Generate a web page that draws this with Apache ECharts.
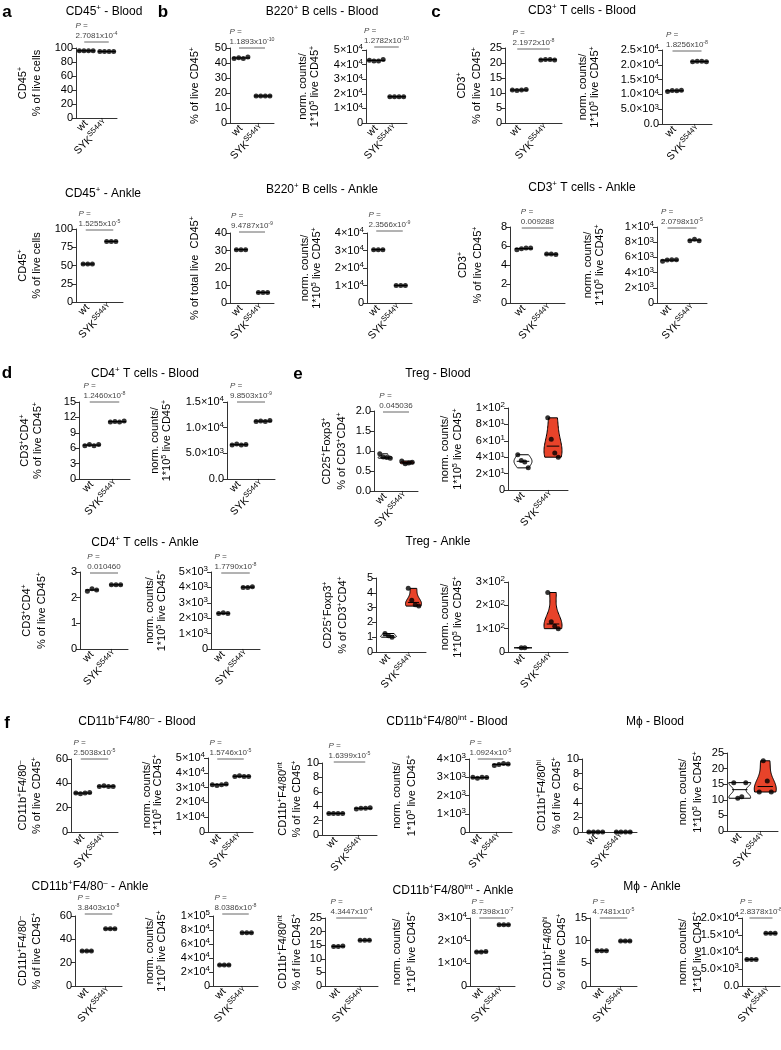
<!DOCTYPE html>
<html><head><meta charset="utf-8">
<script src="https://cdn.jsdelivr.net/npm/echarts@6/dist/echarts.min.js"></script>
<style>html,body{margin:0;padding:0;background:#fff}#c{width:781px;height:1050px}</style>
</head><body><div id="c"></div>
<script>
const FONT = '"Liberation Sans", Arial, Helvetica, sans-serif';
const categories = ['wt', 'SYK^{S544Y}'];

// ---- values ----
const aBloodWt = [96, 96, 96, 96], aBloodSyk = [95, 95, 95, 95];
const aAnkleWt = [52, 52, 52], aAnkleSyk = [83, 83, 83];
const bBloodPctWt = [43, 43.5, 43, 44], bBloodPctSyk = [18, 18, 18, 18];
const bBloodCntWt = [43000, 42500, 42500, 43500], bBloodCntSyk = [18000, 18000, 18000, 18000];
const bAnklePctWt = [30.5, 30.5, 30.5], bAnklePctSyk = [6, 6, 6];
const bAnkleCntWt = [30500, 30500, 30500], bAnkleCntSyk = [10000, 10000, 10000];
const cBloodPctWt = [11, 10.8, 11, 11.2], cBloodPctSyk = [21, 21.2, 21.2, 21];
const cBloodCntWt = [11000, 11300, 11200, 11400], cBloodCntSyk = [21000, 21200, 21200, 21000];
const cAnklePctWt = [5.6, 5.7, 5.8, 5.8], cAnklePctSyk = [5.15, 5.15, 5.1];
const cAnkleCntWt = [5500, 5650, 5700, 5700], cAnkleCntSyk = [8200, 8400, 8200];
const dBloodPctWt = [6.5, 6.7, 6.5, 6.7], dBloodPctSyk = [11.1, 11.2, 11.1, 11.3];
const dBloodCntWt = [6600, 6800, 6600, 6700], dBloodCntSyk = [11200, 11300, 11200, 11400];
const dAnklePctWt = [2.25, 2.35, 2.3], dAnklePctSyk = [2.5, 2.5, 2.5];
const dAnkleCntWt = [2300, 2350, 2300], dAnkleCntSyk = [4000, 4000, 4050];
const eBloodPctWt = [0.93, 0.85, 0.84, 0.82], eBloodPctSyk = [0.75, 0.68, 0.7, 0.72];
const eBloodCntWt = [43, 36, 34, 27], eBloodCntSyk = [88, 62, 45, 40];
const eAnklePctWt = [1.25, 1.1, 1.0], eAnklePctSyk = [4.3, 3.5, 3.2, 3.1];
const eAnkleCntWt = [18, 18], eAnkleCntSyk = [255, 130, 110, 100];
const fNegBloodPctWt = [32, 31.5, 32, 32.5], fNegBloodPctSyk = [37.5, 38, 37.5, 37.5];
const fNegBloodCntWt = [32000, 31500, 32000, 32500], fNegBloodCntSyk = [37500, 38000, 37500, 37500];
const fIntBloodPctWt = [3.0, 3.0, 3.0, 3.0], fIntBloodPctSyk = [3.6, 3.7, 3.7, 3.8];
const fIntBloodCntWt = [3000, 2950, 3000, 2980], fIntBloodCntSyk = [3650, 3700, 3750, 3720];
const fHiBloodPctWt = [0, 0, 0, 0], fHiBloodPctSyk = [0, 0, 0, 0];
const fHiBloodCntWt = [15.5, 10.5, 11, 15.5], fHiBloodCntSyk = [12.5, 22.5, 16, 12.5];
const fNegAnklePctWt = [30, 30, 30], fNegAnklePctSyk = [49, 49, 49];
const fNegAnkleCntWt = [30000, 30000, 30000], fNegAnkleCntSyk = [76000, 76000, 76000];
const fIntAnklePctWt = [14.5, 14.5, 14.7], fIntAnklePctSyk = [16.8, 16.8, 16.8];
const fIntAnkleCntWt = [15000, 15000, 15200], fIntAnkleCntSyk = [27000, 27000, 27000];
const fHiAnklePctWt = [7.8, 7.8, 7.8], fHiAnklePctSyk = [9.9, 9.9, 9.9];
const fHiAnkleCntWt = [7800, 7800, 7800], fHiAnkleCntSyk = [15500, 15500, 15500];

// ---- text ----
const NORM = ['norm. counts/', '1*10^{5} live CD45^{+}'];
const PCT45 = '% of live CD45^{+}';
const titles = [
  ['CD45^{+} - Blood', 104, 12], ['B220^{+} B cells - Blood', 322, 12], ['CD3^{+} T cells - Blood', 582, 11],
  ['CD45^{+} - Ankle', 103, 194], ['B220^{+} B cells - Ankle', 322, 190], ['CD3^{+} T cells - Ankle', 582, 188],
  ['CD4^{+} T cells - Blood', 145, 374], ['Treg - Blood', 438, 374],
  ['CD4^{+} T cells - Ankle', 145, 543], ['Treg - Ankle', 438, 542],
  ['CD11b^{+}F4/80^{–} - Blood', 137, 722], ['CD11b^{+}F4/80^{int} - Blood', 447, 722], ['Mϕ - Blood', 655, 722],
  ['CD11b^{+}F4/80^{–} - Ankle', 90, 887], ['CD11b^{+}F4/80^{int} - Ankle', 453, 891], ['Mϕ - Ankle', 652, 887]
];
const letters = [['a', 7, 12], ['b', 163, 12], ['c', 436, 12], ['d', 7, 373], ['e', 298, 374], ['f', 7, 723]];

// ---- panel layout ----
const panels = [
  {wt: aBloodWt, syk: aBloodSyk, L: 76, T: 48, B: 118, R: 117, max: 100, step: 20, fmt: 'i', yt: ['CD45^{+}', '% of live cells'], ytx: [23, 37], p: '2.7081x10^{-4}', pl: 42},
  {wt: bBloodPctWt, syk: bBloodPctSyk, L: 230, T: 48, B: 123, R: 274, max: 50, step: 10, fmt: 'i', yt: [PCT45], ytx: [195], p: '1.1893x10^{-10}', pl: 48},
  {wt: bBloodCntWt, syk: bBloodCntSyk, L: 366, T: 50, B: 123, R: 407, max: 50000, step: 10000, fmt: 's0', yt: NORM, ytx: [303, 315], p: '1.2782x10^{-10}', pl: 47},
  {wt: cBloodPctWt, syk: cBloodPctSyk, L: 505, T: 48, B: 123, R: 562, max: 25, step: 5, fmt: 'i', yt: ['CD3^{+}', PCT45], ytx: [462, 477], p: '2.1972x10^{-8}', pl: 49},
  {wt: cBloodCntWt, syk: cBloodCntSyk, L: 662, T: 50, B: 124, R: 712, max: 25000, step: 5000, fmt: 's1', yt: NORM, ytx: [583, 595], p: '1.8256x10^{-8}', pl: 51},

  {wt: aAnkleWt, syk: aAnkleSyk, L: 76, T: 229, B: 302, R: 123, max: 100, step: 25, fmt: 'i', yt: ['CD45^{+}', '% of live cells'], ytx: [23, 37], p: '1.5255x10^{-5}', pl: 230},
  {wt: bAnklePctWt, syk: bAnklePctSyk, L: 230, T: 233, B: 303, R: 274, max: 40, step: 10, fmt: 'i', yt: ['% of total live  CD45^{+}'], ytx: [195], p: '9.4787x10^{-9}', pl: 232},
  {wt: bAnkleCntWt, syk: bAnkleCntSyk, L: 367, T: 233, B: 303, R: 412, max: 40000, step: 10000, fmt: 's0', yt: NORM, ytx: [305, 317], p: '2.3566x10^{-9}', pl: 231},
  {wt: cAnklePctWt, syk: cAnklePctSyk, L: 510, T: 227, B: 303, R: 565, max: 8, step: 2, fmt: 'i', yt: ['CD3^{+}', PCT45], ytx: [463, 478], p: '0.009288', pl: 228},
  {wt: cAnkleCntWt, syk: cAnkleCntSyk, L: 657, T: 227, B: 303, R: 707, max: 10000, step: 2000, fmt: 's0', yt: NORM, ytx: [588, 600], p: '2.0798x10^{-5}', pl: 228},

  {wt: dBloodPctWt, syk: dBloodPctSyk, L: 79, T: 402, B: 479, R: 130, max: 15, step: 3, fmt: 'i', yt: ['CD3^{+}CD4^{+}', PCT45], ytx: [25, 38], p: '1.2460x10^{-8}', pl: 402},
  {wt: dBloodCntWt, syk: dBloodCntSyk, L: 227, T: 402, B: 479, R: 275, max: 15000, step: 5000, fmt: 's1', yt: NORM, ytx: [155, 167], p: '9.8503x10^{-9}', pl: 402},
  {wt: eBloodPctWt, syk: eBloodPctSyk, L: 374, T: 411, B: 491, R: 418, max: 2, step: 0.5, fmt: 'd1', yt: ['CD25^{+}Foxp3^{+}', '% of CD3^{+}CD4^{+}'], ytx: [327, 342], p: '0.045036', pl: 412, violin: 7},
  {wt: eBloodCntWt, syk: eBloodCntSyk, L: 508, T: 408, B: 490, R: 568, max: 100, step: 20, fmt: 's0', yt: NORM, ytx: [445, 458], violin: 9},

  {wt: dAnklePctWt, syk: dAnklePctSyk, L: 80, T: 572, B: 649, R: 128, max: 3, step: 1, fmt: 'i', yt: ['CD3^{+}CD4^{+}', PCT45], ytx: [27, 42], p: '0.010460', pl: 573},
  {wt: dAnkleCntWt, syk: dAnkleCntSyk, L: 211, T: 572, B: 649, R: 260, max: 5000, step: 1000, fmt: 's0', yt: NORM, ytx: [150, 162], p: '1.7790x10^{-8}', pl: 573},
  {wt: eAnklePctWt, syk: eAnklePctSyk, L: 376, T: 578, B: 652, R: 426, max: 5, step: 1, fmt: 'i', yt: ['CD25^{+}Foxp3^{+}', '% of CD3^{+}CD4^{+}'], ytx: [328, 343], violin: 8},
  {wt: eAnkleCntWt, syk: eAnkleCntSyk, L: 508, T: 582, B: 652, R: 568, max: 300, step: 100, fmt: 's0', yt: NORM, ytx: [445, 458], violin: 9},

  {wt: fNegBloodPctWt, syk: fNegBloodPctSyk, L: 71, T: 759, B: 832, R: 118, max: 60, step: 20, fmt: 'i', yt: ['CD11b^{+}F4/80^{–}', PCT45], ytx: [23, 37], p: '2.5038x10^{-5}', pl: 759},
  {wt: fNegBloodCntWt, syk: fNegBloodCntSyk, L: 208, T: 758, B: 832, R: 253, max: 50000, step: 10000, fmt: 's0', yt: NORM, ytx: [147, 158], p: '1.5746x10^{-5}', pl: 759},
  {wt: fIntBloodPctWt, syk: fIntBloodPctSyk, L: 322, T: 763, B: 835, R: 377, max: 10, step: 2, fmt: 'i', yt: ['CD11b^{+}F4/80^{int}', PCT45], ytx: [283, 297], p: '1.6399x10^{-5}', pl: 762},
  {wt: fIntBloodCntWt, syk: fIntBloodCntSyk, L: 469, T: 759, B: 832, R: 512, max: 4000, step: 1000, fmt: 's0', yt: NORM, ytx: [397, 412], p: '1.0924x10^{-5}', pl: 759},
  {wt: fHiBloodPctWt, syk: fHiBloodPctSyk, L: 582, T: 759, B: 832, R: 637, max: 10, step: 2, fmt: 'i', yt: ['CD11b^{+}F4/80^{hi}', PCT45], ytx: [542, 557]},
  {wt: fHiBloodCntWt, syk: fHiBloodCntSyk, L: 727, T: 753, B: 831, R: 778, max: 25, step: 5, fmt: 'i', yt: NORM, ytx: [683, 698], violin: 11, ptStep: 4},

  {wt: fNegAnklePctWt, syk: fNegAnklePctSyk, L: 75, T: 916, B: 986, R: 122, max: 60, step: 20, fmt: 'i', yt: ['CD11b^{+}F4/80^{–}', PCT45], ytx: [23, 37], p: '3.8403x10^{-8}', pl: 914},
  {wt: fNegAnkleCntWt, syk: fNegAnkleCntSyk, L: 213, T: 916, B: 986, R: 258, max: 100000, step: 20000, fmt: 's0', yt: NORM, ytx: [150, 162], p: '8.0386x10^{-8}', pl: 914},
  {wt: fIntAnklePctWt, syk: fIntAnklePctSyk, L: 325, T: 918, B: 986, R: 378, max: 25, step: 5, fmt: 'i', yt: ['CD11b^{+}F4/80^{int}', PCT45], ytx: [283, 297], p: '4.3447x10^{-4}', pl: 918},
  {wt: fIntAnkleCntWt, syk: fIntAnkleCntSyk, L: 470, T: 918, B: 986, R: 515, max: 30000, step: 10000, fmt: 's0', yt: NORM, ytx: [397, 412], p: '8.7398x10^{-7}', pl: 918},
  {wt: fHiAnklePctWt, syk: fHiAnklePctSyk, L: 590, T: 918, B: 986, R: 637, max: 15, step: 5, fmt: 'i', yt: ['CD11b^{+}F4/80^{hi}', PCT45], ytx: [548, 562], p: '4.7481x10^{-5}', pl: 918},
  {wt: fHiAnkleCntWt, syk: fHiAnkleCntSyk, L: 742, T: 918, B: 986, R: 780, max: 20000, step: 5000, fmt: 's1', yt: NORM, ytx: [683, 698], p: '2.8378x10^{-8}', pl: 918}
];

// ---- helpers ----
function rt(str, b, s) {
  let out = '', last = 0, m; const re = /\^\{([^}]*)\}/g;
  while ((m = re.exec(str))) {
    if (m.index > last) out += '{' + b + '|' + str.slice(last, m.index) + '}';
    out += '{' + s + '|' + m[1] + '}';
    last = re.lastIndex;
  }
  if (last < str.length) out += '{' + b + '|' + str.slice(last) + '}';
  return out;
}
function richPair(b, s, size, color, lh, extra, supRatio, padRatio) {
  const o = {};
  const r = supRatio || 0.66, pr = padRatio || 0.62;
  o[b] = Object.assign({fontSize: size, fontFamily: FONT, fill: color, color: color, lineHeight: lh}, extra || {});
  o[s] = Object.assign({fontSize: size * r, fontFamily: FONT, fill: color, color: color, lineHeight: lh, padding: [0, 0, size * pr, 0]}, extra || {});
  return o;
}
function tickFmt(kind) {
  return function (v) {
    if (kind === 'i') return '{m|' + String(Math.round(v * 100) / 100) + '}';
    if (kind === 'd1') return '{m|' + v.toFixed(1) + '}';
    const dec = kind === 's1' ? 1 : 0;
    if (v === 0) return '{m|' + (dec ? '0.0' : '0') + '}';
    const e = Math.floor(Math.log10(v) + 1e-9);
    const mant = v / Math.pow(10, e);
    return '{m|' + mant.toFixed(dec) + '×10}{e|' + e + '}';
  };
}
const AX = '#333';
const RED = '#e8432a';
const richY = richPair('m', 'e', 11, '#000', 11, null, 0.72, 0.5);
const richX = richPair('xb', 'xs', 10.5, '#000', 13);
richX.xs.fontSize = 7.5;

function spread(n, step) { const a = []; for (let k = 0; k < n; k++) a.push((k - (n - 1) / 2) * step); return a; }

function violinShape(vals, cat, api, hw) {
  const lo = Math.min.apply(null, vals), hi = Math.max.apply(null, vals);
  const rng = (hi - lo) || 1, h = rng * 0.3, N = 30;
  const dens = [];
  for (let i = 0; i <= N; i++) {
    const y = lo + rng * i / N; let d = 0;
    vals.forEach(v => { d += Math.exp(-0.5 * Math.pow((y - v) / h, 2)); });
    dens.push(d);
  }
  const md = Math.max.apply(null, dens);
  const right = [], left = [];
  for (let i = 0; i <= N; i++) {
    const y = lo + rng * i / N; const c = api.coord([cat, y]);
    const wd = Math.max(1.5, hw * dens[i] / md);
    right.push([c[0] + wd, c[1]]); left.unshift([c[0] - wd, c[1]]);
  }
  return right.concat(left);
}

const option = {animation: false, grid: [], xAxis: [], yAxis: [], series: [], graphic: []};

panels.forEach((p, i) => {
  const w = p.R - p.L, h = p.B - p.T;
  option.grid.push({left: p.L, top: p.T, width: w, height: h, outerBoundsMode: 'none', containLabel: false});
  option.xAxis.push({
    type: 'category', gridIndex: i, data: categories, boundaryGap: true,
    axisLine: {lineStyle: {color: AX, width: 1}},
    axisTick: {alignWithLabel: true, interval: 0, length: 4, lineStyle: {color: AX}},
    axisLabel: {interval: 0, rotate: 45, margin: 4, color: '#000', hideOverlap: false, formatter: v => rt(v, 'xb', 'xs'), rich: richX},
    splitLine: {show: false}
  });
  option.yAxis.push({
    type: 'value', gridIndex: i, min: 0, max: p.max, interval: p.step,
    axisLine: {show: true, lineStyle: {color: AX, width: 1}},
    axisTick: {show: true, length: 4, lineStyle: {color: AX}},
    axisLabel: {margin: 3, color: '#000', hideOverlap: false, showMaxLabel: true, showMinLabel: true, formatter: tickFmt(p.fmt), rich: richY},
    splitLine: {show: false}
  });
  const groups = [p.wt, p.syk];
  const median = a => { const s = a.slice().sort((x, y) => x - y); const n = s.length; return n % 2 ? s[(n - 1) / 2] : (s[n / 2 - 1] + s[n / 2]) / 2; };
  const mean = a => a.reduce((x, y) => x + y, 0) / a.length;
  if (p.violin) {
    option.series.push({
      type: 'custom', xAxisIndex: i, yAxisIndex: i, z: 1,
      data: [[0, median(p.wt)], [1, median(p.syk)]],
      renderItem: (params, api) => {
        const cat = params.dataIndex, vals = groups[cat];
        const poly = violinShape(vals, cat, api, p.violin);
        const md = api.coord([cat, median(vals)]);
        return {type: 'group', children: [
          {type: 'polygon', shape: {points: poly}, style: {fill: cat ? RED : '#fff', stroke: '#000', lineWidth: 1}},
          {type: 'line', shape: {x1: md[0] - p.violin * 0.7, y1: md[1], x2: md[0] + p.violin * 0.7, y2: md[1]}, style: {stroke: '#000', lineWidth: 1}}
        ]};
      }
    });
  } else {
    option.series.push({
      type: 'custom', xAxisIndex: i, yAxisIndex: i, z: 1,
      data: [[0, mean(p.wt)], [1, mean(p.syk)]],
      renderItem: (params, api) => {
        const c = api.coord([api.value(0), api.value(1)]);
        const n = groups[params.dataIndex].length, hw = (n - 1) * 4.6 / 2 + 2;
        return {type: 'line', shape: {x1: c[0] - hw, y1: c[1], x2: c[0] + hw, y2: c[1]}, style: {stroke: '#000', lineWidth: 1.3}};
      }
    });
  }
  const pts = [];
  groups.forEach((g, cat) => {
    const off = spread(g.length, p.ptStep || (p.violin ? 3.5 : 4.6));
    g.forEach((v, k) => pts.push({value: [cat, v], symbolOffset: [off[k], 0]}));
  });
  option.series.push({type: 'scatter', xAxisIndex: i, yAxisIndex: i, z: 3, symbol: 'circle', symbolSize: 5,
    itemStyle: {color: '#000'}, data: pts, silent: true});

  // y-axis title
  const lines = p.yt;
  const lh = lines.length > 1 ? (p.ytx[1] - p.ytx[0]) : 14;
  const cx = lines.length > 1 ? (p.ytx[0] + p.ytx[1]) / 2 : p.ytx[0];
  option.graphic.push({type: 'text', x: cx, y: (p.T + p.B) / 2, rotation: Math.PI / 2, silent: true,
    style: {text: lines.map(s => rt(s, 'b', 's')).join('\n'), rich: richPair('b', 's', 11, '#000', lh),
      align: 'center', verticalAlign: 'middle', textAlign: 'center', textVerticalAlign: 'middle', fontFamily: FONT}});

  // P-value annotation
  if (p.p) {
    const c0 = p.L + w / 4, c1 = p.L + 3 * w / 4;
    option.graphic.push({type: 'line', silent: true, shape: {x1: c0 - 2, y1: p.pl, x2: c1 + 2, y2: p.pl}, style: {stroke: '#666', lineWidth: 1}});
    const rich = richPair('pv', 'ps', 8, '#444', 10, {align: 'left'});
    rich.pi = {fontSize: 8, fontStyle: 'italic', fontFamily: FONT, fill: '#444', lineHeight: 10, align: 'left'};
    option.graphic.push({type: 'text', x: (c0 + c1) / 2, y: p.pl - 1, silent: true,
      style: {text: '{pi|P =}\n' + rt(p.p, 'pv', 'ps'), rich: rich, align: 'center', verticalAlign: 'bottom', textAlign: 'center', textVerticalAlign: 'bottom', fontFamily: FONT}});
  }
});

titles.forEach(t => {
  option.graphic.push({type: 'text', x: t[1], y: t[2], silent: true,
    style: {text: rt(t[0], 'b', 's'), rich: richPair('b', 's', 12, '#000', 14), align: 'center', verticalAlign: 'middle', textAlign: 'center', textVerticalAlign: 'middle', fontFamily: FONT}});
});
letters.forEach(t => {
  option.graphic.push({type: 'text', x: t[1], y: t[2], silent: true,
    style: {text: t[0], fontSize: 17, fontWeight: 'bold', fontFamily: FONT, fill: '#000', align: 'center', verticalAlign: 'middle', textAlign: 'center', textVerticalAlign: 'middle'}});
});

const chart = echarts.init(document.getElementById('c'), null, {renderer: 'canvas'});
chart.setOption(option);
</script>
</body></html>
